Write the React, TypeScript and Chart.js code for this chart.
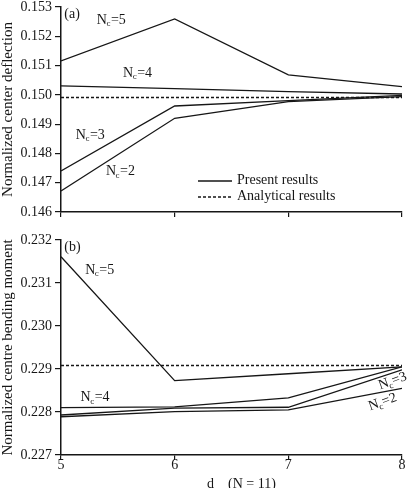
import React, { useEffect, useRef } from "react";
import { Chart, registerables } from "chart.js";

Chart.register(...registerables);

const FONT = '"Liberation Serif", "Times New Roman", serif';
const INK = "#161616";

// x values (d)
const dValues = [5, 6, 7, 8];

// (a) normalized center deflection
const deflectionNc5 = [0.15116, 0.15259, 0.15068, 0.15028];
const deflectionNc4 = [0.15031, 0.15021, 0.15011, 0.15003];
const deflectionNc3 = [0.1474, 0.14962, 0.1498, 0.14998];
const deflectionNc2 = [0.14672, 0.1492, 0.14977, 0.14994];
const deflectionAnalytical = [0.14991, 0.14991, 0.14991, 0.14991];
const deflectionTicks = [0.146, 0.147, 0.148, 0.149, 0.15, 0.151, 0.152, 0.153];

// (b) normalized centre bending moment
const momentNc5 = [0.23161, 0.22873, 0.22889, 0.22905];
const momentNc4 = [0.2281, 0.22812, 0.22833, 0.22905];
const momentNc3 = [0.22793, 0.22809, 0.22811, 0.22898];
const momentNc2 = [0.22789, 0.22801, 0.22805, 0.22855];
const momentAnalytical = [0.22908, 0.22908, 0.22908, 0.22908];
const momentTicks = [0.227, 0.228, 0.229, 0.23, 0.231, 0.232];

type CurveLabel = { n: string; x: number; y: number; angle: number; align: "left" | "center" };

const deflectionLabels: CurveLabel[] = [
  { n: "5", x: 5.315, y: 0.15256, angle: 0, align: "left" },
  { n: "4", x: 5.546, y: 0.15075, angle: 0, align: "left" },
  { n: "3", x: 5.13, y: 0.14863, angle: 0, align: "left" },
  { n: "2", x: 5.396, y: 0.14738, angle: 0, align: "left" },
];
const momentLabels: CurveLabel[] = [
  { n: "5", x: 5.213, y: 0.2313, angle: 0, align: "left" },
  { n: "4", x: 5.172, y: 0.22833, angle: 0, align: "left" },
  { n: "3", x: 7.918, y: 0.22872, angle: -20, align: "center" },
  { n: "2", x: 7.83, y: 0.22823, angle: -20, align: "center" },
];

const legendItems = ["Present results", "Analytical results"];
const xAxisTitle = "d    (N = 11)";
const deflectionTitle = "Normalized center deflection";
const momentTitle = "Normalized centre bending moment";

type PanelProps = {
  top: number;
  height: number;
  series: number[][];
  analytical: number[];
  ticks: number[];
  yTitle: string;
  panelLabel: string;
  curveLabels: CurveLabel[];
  showXLabels: boolean;
  padTop: number;
  xAxisHeight: number;
  legend: boolean;
  xTitle?: string;
};

function drawNc(ctx: CanvasRenderingContext2D, px: number, py: number, lab: CurveLabel) {
  const big = `14px ${FONT}`;
  const small = `9px ${FONT}`;
  ctx.save();
  ctx.translate(px, py);
  ctx.rotate((lab.angle * Math.PI) / 180);
  ctx.textBaseline = "middle";
  ctx.textAlign = "left";
  ctx.font = big;
  const wN = ctx.measureText("N").width;
  const rest = "=" + lab.n;
  const wR = ctx.measureText(rest).width;
  ctx.font = small;
  const wc = ctx.measureText("c").width;
  const total = wN + wc + wR;
  let sx = lab.align === "center" ? -total / 2 : 0;
  ctx.font = big;
  ctx.fillText("N", sx, 0);
  ctx.font = small;
  ctx.fillText("c", sx + wN - 0.5, 4);
  ctx.font = big;
  ctx.fillText(rest, sx + wN + wc, 0);
  ctx.restore();
}

function Panel(p: PanelProps) {
  const ref = useRef<HTMLCanvasElement>(null);
  useEffect(() => {
    const canvas = ref.current;
    if (!canvas) return;
    const mk = (vals: number[]) => vals.map((v, i) => ({ x: dValues[i], y: v }));
    const datasets: any[] = [
      ...p.series.map((s) => ({
        data: mk(s),
        borderColor: INK,
        borderWidth: 1.3,
        pointRadius: 0,
        fill: false,
        tension: 0,
      })),
      {
        data: mk(p.analytical),
        borderColor: INK,
        borderWidth: 1.4,
        borderDash: [3, 2],
        pointRadius: 0,
        fill: false,
        tension: 0,
      },
    ];

    const textPlugin = {
      id: "panelTexts",
      afterDatasetsDraw(chart: any) {
        const ctx: CanvasRenderingContext2D = chart.ctx;
        const xs = chart.scales.x;
        const ys = chart.scales.y;
        const area = chart.chartArea;
        ctx.save();
        ctx.fillStyle = INK;
        ctx.strokeStyle = INK;
        ctx.font = `14px ${FONT}`;
        ctx.textAlign = "left";
        ctx.textBaseline = "middle";
        ctx.fillText(p.panelLabel, area.left + 3.3, area.top + 7);
        for (const lab of p.curveLabels) {
          drawNc(ctx, xs.getPixelForValue(lab.x), ys.getPixelForValue(lab.y), lab);
        }
        if (p.legend) {
          const rows = [181, 197];
          legendItems.forEach((txt, i) => {
            ctx.beginPath();
            ctx.lineWidth = i === 0 ? 1.3 : 1.4;
            ctx.setLineDash(i === 0 ? [] : [3, 2]);
            ctx.moveTo(198, rows[i]);
            ctx.lineTo(232, rows[i]);
            ctx.stroke();
            ctx.setLineDash([]);
            ctx.font = `14px ${FONT}`;
            ctx.textBaseline = "middle";
            ctx.fillText(txt, 237, rows[i] - 0.5);
          });
        }
        if (p.xTitle) {
          ctx.font = `14px ${FONT}`;
          ctx.textBaseline = "alphabetic";
          ctx.fillText(p.xTitle, 207, p.height - 0.5);
        }
        ctx.restore();
      },
    };

    const chart = new Chart(canvas, {
      type: "line",
      data: { datasets },
      options: {
        responsive: false,
        animation: false,
        devicePixelRatio: 1,
        layout: { padding: { top: p.padTop, right: 6, left: 0, bottom: 0 } },
        plugins: { legend: { display: false }, tooltip: { enabled: false } },
        scales: {
          x: {
            type: "linear",
            min: dValues[0],
            max: dValues[dValues.length - 1],
            afterBuildTicks: (s: any) => {
              s.ticks = dValues.map((v) => ({ value: v }));
            },
            afterFit: (s: any) => {
              s.height = p.xAxisHeight;
              s.paddingLeft = 0;
              s.paddingRight = 0;
            },
            grid: { drawOnChartArea: false, drawTicks: true, tickLength: 5, color: INK, lineWidth: 1.2 },
            border: { display: true, color: INK, width: 1.5 },
            ticks: {
              callback: (v: any) => (p.showXLabels ? String(v) : ""),
              font: { family: FONT, size: 14, lineHeight: 1 },
              color: INK,
              padding: -2,
              maxRotation: 0,
              autoSkip: false,
            },
          },
          y: {
            type: "linear",
            min: p.ticks[0],
            max: p.ticks[p.ticks.length - 1],
            afterBuildTicks: (s: any) => {
              s.ticks = p.ticks.map((v) => ({ value: v }));
            },
            afterFit: (s: any) => {
              s.width = 61;
              s.paddingTop = 0;
              s.paddingBottom = 0;
            },
            grid: { drawOnChartArea: false, drawTicks: true, tickLength: 6, color: INK, lineWidth: 1.2 },
            border: { display: true, color: INK, width: 1.5 },
            ticks: {
              callback: (v: any) => Number(v).toFixed(3),
              font: { family: FONT, size: 14, lineHeight: 1 },
              color: INK,
              padding: 3,
              autoSkip: false,
            },
            title: {
              display: true,
              text: p.yTitle,
              font: { family: FONT, size: 15, lineHeight: 1.1 },
              color: INK,
              padding: 0,
            },
          },
        },
      } as any,
      plugins: [textPlugin],
    });
    return () => chart.destroy();
  }, []);
  return (
    <canvas
      ref={ref}
      width={408}
      height={p.height}
      style={{ position: "absolute", left: 0, top: p.top, width: 408, height: p.height, display: "block" }}
    />
  );
}

export default function App() {
  return (
    <div
      style={{
        position: "fixed",
        left: 0,
        top: 0,
        width: 408,
        height: 488,
        overflow: "hidden",
        background: "#fff",
      }}
    >
      <Panel
        top={0}
        height={224}
        series={[deflectionNc5, deflectionNc4, deflectionNc3, deflectionNc2]}
        analytical={deflectionAnalytical}
        ticks={deflectionTicks}
        yTitle={deflectionTitle}
        panelLabel="(a)"
        curveLabels={deflectionLabels}
        showXLabels={false}
        padTop={7}
        xAxisHeight={12}
        legend={true}
      />
      <Panel
        top={224}
        height={264}
        series={[momentNc5, momentNc4, momentNc3, momentNc2]}
        analytical={momentAnalytical}
        ticks={momentTicks}
        yTitle={momentTitle}
        panelLabel="(b)"
        curveLabels={momentLabels}
        showXLabels={true}
        padTop={16}
        xAxisHeight={33}
        legend={false}
        xTitle={xAxisTitle}
      />
    </div>
  );
}
